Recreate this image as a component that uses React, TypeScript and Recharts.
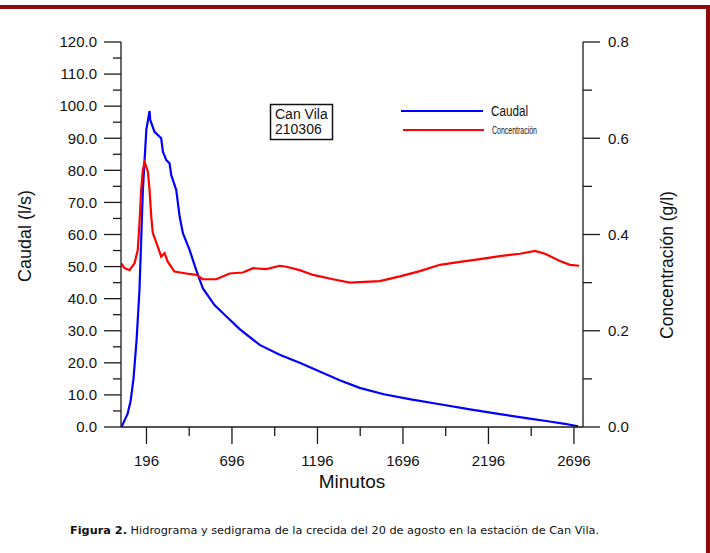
import { ComposedChart, Line, XAxis, YAxis, Legend, Customized } from 'recharts';

// hidrograma: minutos / caudal (l/s)
const caudalMin = [50, 67, 85, 103, 120, 138, 155, 175, 195, 214, 218, 243, 282, 292, 312, 331, 341, 370, 390, 409, 448, 487, 526, 594, 653, 741, 858, 975, 1092, 1209, 1326, 1443, 1584, 1742, 1912, 2088, 2263, 2427, 2544, 2643, 2720];
const caudalVal = [0, 2, 4, 8, 15, 27, 42.7, 73.9, 92.6, 98.5, 95.7, 92, 90, 85.8, 83.2, 82.2, 78.5, 73.9, 65.6, 60.4, 55.2, 48.9, 43.2, 38, 35, 30.5, 25.6, 22.5, 20, 17.3, 14.6, 12.2, 10.2, 8.6, 7.1, 5.5, 4.0, 2.7, 1.8, 1.0, 0.2];

// sedigrama: minutos / concentración (g/l)
const concMin = [48, 67, 97, 126, 145, 155, 165, 175, 185, 190, 204, 214, 224, 233, 262, 282, 302, 321, 360, 429, 487, 526, 604, 682, 760, 819, 897, 975, 1014, 1092, 1170, 1287, 1385, 1560, 1678, 1795, 1912, 2029, 2146, 2263, 2380, 2468, 2527, 2614, 2673, 2726];
const concVal = [0.34, 0.33, 0.326, 0.34, 0.368, 0.423, 0.493, 0.534, 0.55, 0.545, 0.531, 0.493, 0.437, 0.403, 0.375, 0.354, 0.361, 0.343, 0.323, 0.319, 0.316, 0.307, 0.307, 0.319, 0.321, 0.33, 0.328, 0.335, 0.333, 0.326, 0.316, 0.307, 0.3, 0.303, 0.313, 0.324, 0.337, 0.343, 0.349, 0.355, 0.36, 0.366, 0.36, 0.345, 0.337, 0.335];

const xTicks = [196, 446, 696, 946, 1196, 1446, 1696, 1946, 2196, 2446, 2696];
const xMajor = [196, 696, 1196, 1696, 2196, 2696];
const leftTicks = [0, 5, 10, 15, 20, 25, 30, 35, 40, 45, 50, 55, 60, 65, 70, 75, 80, 85, 90, 95, 100, 105, 110, 115, 120];
const rightTicks = [0, 0.1, 0.2, 0.3, 0.4, 0.5, 0.6, 0.7, 0.8];

const caudalData = caudalMin.map((m, i) => ({ min: m, caudal: caudalVal[i] }));
const concData = concMin.map((m, i) => ({ min: m, conc: concVal[i] }));

const FONT = '"Liberation Sans", Arial, Helvetica, sans-serif';
const AXIS = '#1a1a1a';

function LeftTick(props: any) {
  const { x, y, payload } = props;
  const v = payload.value;
  const major = v % 10 === 0;
  return (
    <g>
      <line x1={x - (major ? 17 : 8)} y1={y} x2={x} y2={y} stroke={AXIS} strokeWidth={1.3} />
      {major && (
        <text x={x - 24} y={y + 5.3} textAnchor="end" fontSize={15} fontFamily={FONT} fill="#111">
          {v.toFixed(1)}
        </text>
      )}
    </g>
  );
}

function RightTick(props: any) {
  const { x, y, payload, index } = props;
  const major = index % 2 === 0;
  return (
    <g>
      <line x1={x} y1={y} x2={x + (major ? 17 : 9)} y2={y} stroke={AXIS} strokeWidth={1.3} />
      {major && (
        <text x={x + 25} y={y + 5.3} textAnchor="start" fontSize={15} fontFamily={FONT} fill="#111">
          {payload.value.toFixed(1)}
        </text>
      )}
    </g>
  );
}

function BottomTick(props: any) {
  const { x, y, payload } = props;
  const major = xMajor.includes(payload.value);
  return (
    <g>
      <line x1={x} y1={y} x2={x} y2={y + (major ? 17 : 9)} stroke={AXIS} strokeWidth={1.3} />
      {major && (
        <text x={x} y={y + 38.5} textAnchor="middle" fontSize={15} fontFamily={FONT} fill="#111">
          {payload.value}
        </text>
      )}
    </g>
  );
}

function renderLegend({ payload }: any) {
  return (
    <svg width={170} height={44} style={{ display: 'block' }}>
      {(payload || []).map((p: any, i: number) => (
        <g key={p.value}>
          <line x1={i === 0 ? 3 : 5} x2={i === 0 ? 85 : 86} y1={i === 0 ? 11 : 30} y2={i === 0 ? 11 : 30} stroke={p.color} strokeWidth={2.2} />
          <text
            x={i === 0 ? 93 : 94}
            y={i === 0 ? 16 : 33.5}
            fontSize={i === 0 ? 14 : 10}
            fontFamily={'"Liberation Sans Narrow", ' + FONT}
            textLength={i === 0 ? 37 : 45}
            lengthAdjust="spacingAndGlyphs"
            fill="#111"
          >
            {p.value}
          </text>
        </g>
      ))}
    </svg>
  );
}

function StationBox() {
  return (
    <g fontFamily={FONT} fontSize={14} fill="#111">
      <rect x={270.5} y={104.5} width={62} height={35} fill="#fff" stroke="#111" strokeWidth={1.5} />
      <text x={275} y={118.5}>Can Vila</text>
      <text x={275} y={134}>210306</text>
    </g>
  );
}

export default function App() {
  return (
    <div style={{ position: 'absolute', left: 0, top: 0, width: 710, height: 553, overflow: 'hidden', background: '#fff' }}>
      <div
        style={{
          position: 'absolute',
          left: -20,
          top: 5,
          width: 726,
          height: 700,
          borderTop: '4px solid #8c0b0b',
          borderRight: '4px solid #8c0b0b',
        }}
      />
      <ComposedChart width={710} height={553} margin={{ top: 42, right: 0, bottom: 0, left: 0 }}>
        <XAxis
          dataKey="min"
          type="number"
          domain={[47, 2749]}
          ticks={xTicks}
          interval={0}
          allowDataOverflow
          height={126}
          tickLine={false}
          tickSize={0}
          tickMargin={0}
          tick={BottomTick}
          axisLine={{ stroke: AXIS, strokeWidth: 1.3 }}
          label={() => (
            <text x={352} y={488} textAnchor="middle" fontSize={19} fontFamily={FONT} fill="#111">
              Minutos
            </text>
          )}
        />
        <YAxis
          yAxisId="left"
          orientation="left"
          domain={[0, 120]}
          ticks={leftTicks}
          interval={0}
          width={121}
          tickLine={false}
          tickSize={0}
          tickMargin={0}
          tick={LeftTick}
          axisLine={{ stroke: AXIS, strokeWidth: 1.3 }}
          label={() => (
            <text x={31} y={236} transform="rotate(-90 31 236)" textAnchor="middle" fontSize={18} fontFamily={FONT} fill="#111">
              Caudal (l/s)
            </text>
          )}
        />
        <YAxis
          yAxisId="right"
          orientation="right"
          domain={[0, 0.8]}
          ticks={rightTicks}
          interval={0}
          width={127}
          tickLine={false}
          tickSize={0}
          tickMargin={0}
          tick={RightTick}
          axisLine={{ stroke: AXIS, strokeWidth: 1.3 }}
          label={() => (
            <text x={673} y={265} transform="rotate(-90 673 265)" textAnchor="middle" fontSize={17.5} fontFamily={FONT} fill="#111">
              Concentración (g/l)
            </text>
          )}
        />
        <Line
          yAxisId="left"
          data={caudalData}
          dataKey="caudal"
          name="Caudal"
          type="linear"
          stroke="#0000ff"
          strokeWidth={2.2}
          dot={false}
          isAnimationActive={false}
        />
        <Line
          yAxisId="right"
          data={concData}
          dataKey="conc"
          name="Concentración"
          type="linear"
          stroke="#ff0000"
          strokeWidth={2.2}
          dot={false}
          isAnimationActive={false}
        />
        <Legend
          layout="horizontal"
          verticalAlign="middle"
          align="center"
          content={renderLegend}
          wrapperStyle={{ position: 'absolute', left: 398, top: 100, width: 170, height: 44 }}
        />
        <Customized component={StationBox} />
      </ComposedChart>
      <div
        style={{
          position: 'absolute',
          left: 70,
          top: 524,
          fontFamily: '"DejaVu Sans", Verdana, sans-serif',
          fontSize: 11.3,
          color: '#111',
          whiteSpace: 'nowrap',
        }}
      >
        <b>Figura 2.</b> Hidrograma y sedigrama de la crecida del 20 de agosto en la estación de Can Vila.
      </div>
    </div>
  );
}
